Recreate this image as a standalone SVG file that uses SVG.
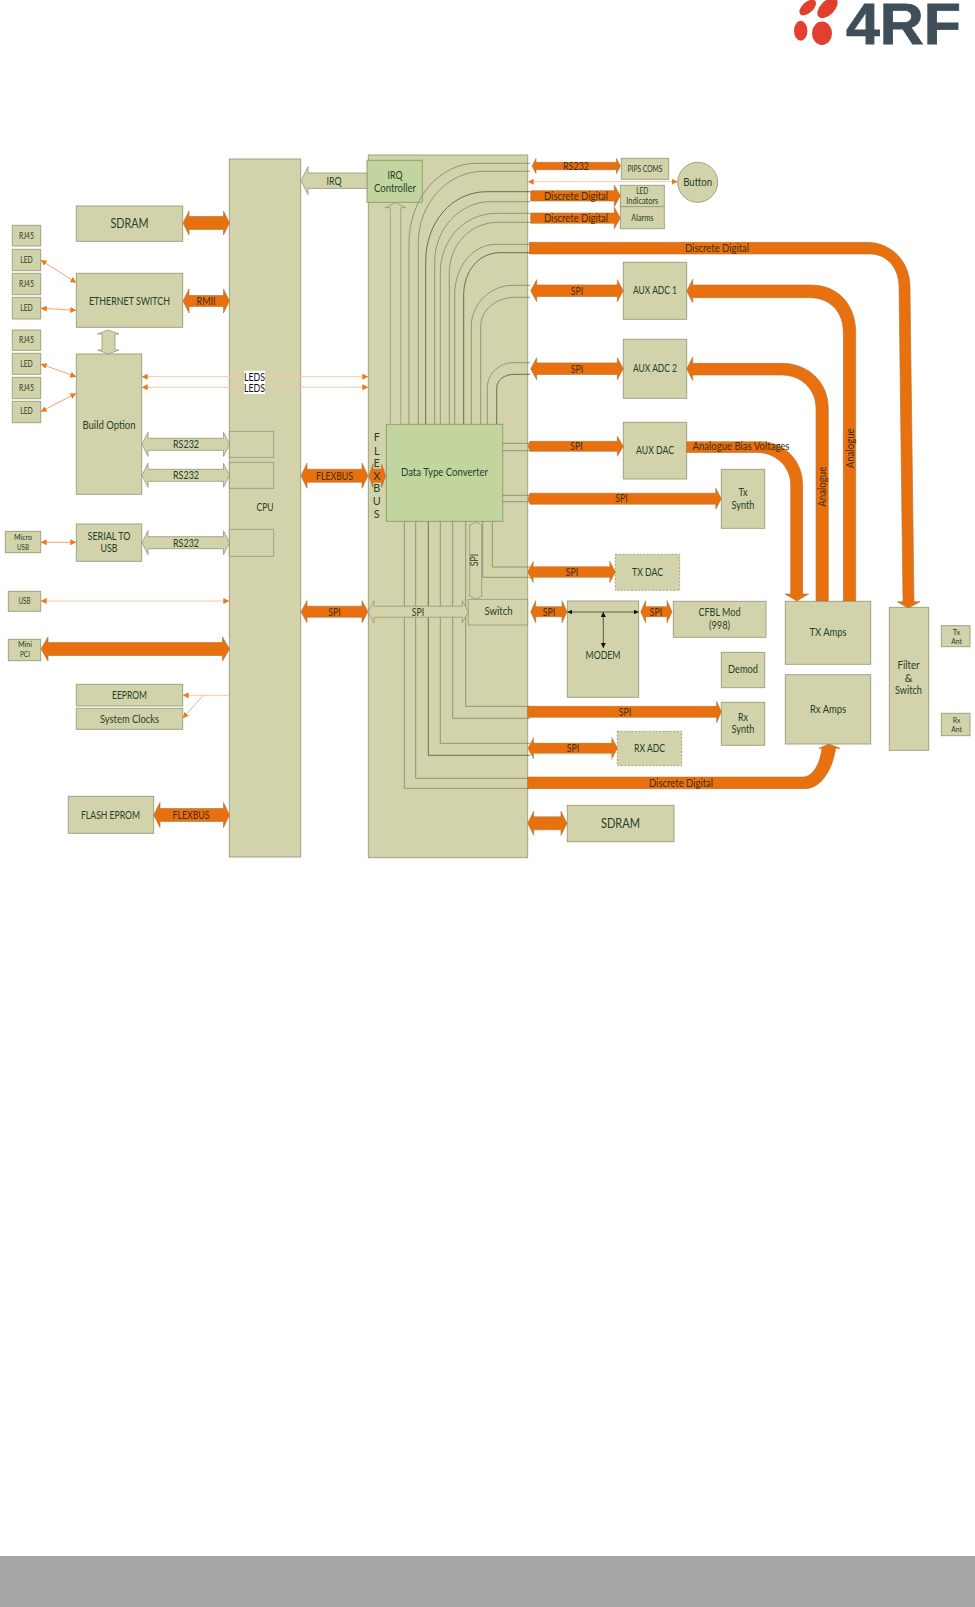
<svg xmlns="http://www.w3.org/2000/svg" width="975" height="1607" viewBox="0 0 975 1607">
<style>
text{font-family:Lato,"Open Sans","Liberation Sans",sans-serif;fill:#24402a;text-anchor:middle;font-size:10.800px}
.n{fill:#d3d3ab;stroke:#9a9b7c;stroke-width:.9}
.g{fill:#c3d59e;stroke:#8b9a6c;stroke-width:.9}
.d{fill:#d3d3ab;stroke:#9a9b7c;stroke-width:.9;stroke-dasharray:2 1.5}
.o{fill:#e9700e;stroke:#a9763a;stroke-width:.6}
.od{fill:#e9700e;stroke:#a9a078;stroke-width:.7;stroke-dasharray:2 1.5}
.t{fill:#d3d3ab;stroke:#95977a;stroke-width:.8}
.l{fill:none;stroke:#8b8c6c;stroke-width:.9}
.l2{fill:none;stroke:#5f604a;stroke-width:.9}
.th{fill:none;stroke:#f3c39c;stroke-width:.9;marker-start:url(#oa);marker-end:url(#oa)}
.th2{fill:none;stroke:#ee9a5c;stroke-width:.9;marker-start:url(#oa);marker-end:url(#oa)}
.b{fill:none;stroke:#3b3b30;stroke-width:.8;marker-start:url(#ba);marker-end:url(#ba)}
.s{font-size:8.500px}
.xs{font-size:7.500px}
.m{font-size:13px}
.c{fill:#3d2f10}
</style>
<defs>
<marker id="oa" markerUnits="userSpaceOnUse" markerWidth="7" markerHeight="6" refX="6" refY="3" orient="auto-start-reverse"><path d="M0 0L6 3L0 6z" fill="#ec7a1c"/></marker>
<marker id="ba" markerUnits="userSpaceOnUse" markerWidth="6" markerHeight="6" refX="5" refY="2.5" orient="auto-start-reverse"><path d="M0 0L5 2.5L0 5z" fill="#111"/></marker>
</defs>

<g id="logo">
<ellipse cx="807.700" cy="7.500" rx="10" ry="5.500" transform="rotate(-42 807.700 7.500)" fill="#e2402e"/>
<ellipse cx="827.500" cy="8" rx="12.500" ry="7" transform="rotate(-45 827.500 8)" fill="#e2402e"/>
<ellipse cx="800.700" cy="30.700" rx="6.700" ry="10" fill="#e2402e"/>
<ellipse cx="822" cy="33.300" rx="10" ry="11.700" fill="#e2402e"/>
<text x="846" y="43.500" textLength="115" lengthAdjust="spacingAndGlyphs" style="font-family:'Liberation Sans',sans-serif;font-weight:700;font-size:58px;fill:#3f4e58;stroke:#3f4e58;stroke-width:.8;text-anchor:start">4RF</text>
</g>
<rect id="footer" x="0" y="1556" width="975" height="51" fill="#a6a6a6"/>

<g id="cpu"><rect class="n" x="229.3" y="159" width="71.4" height="698"/><text x="265" y="511" textLength="17" lengthAdjust="spacingAndGlyphs">CPU</text>
<rect class="n" x="229.3" y="431.3" width="44.4" height="26"/><rect class="n" x="229.3" y="462.3" width="44.4" height="26"/><rect class="n" x="229.3" y="529.3" width="44.4" height="27"/></g>
<g id="bus-block"><rect class="n" x="368.3" y="155" width="159.4" height="702.7"/></g>
<g id="irq-controller"><rect class="g" x="367" y="160.3" width="55.3" height="42"/><text x="395" y="179" textLength="15" lengthAdjust="spacingAndGlyphs">IRQ</text><text x="395" y="191.500" textLength="42" lengthAdjust="spacingAndGlyphs">Controller</text></g>
<g id="data-type-converter"><rect class="g" x="386.3" y="424.3" width="116.4" height="97"/><text x="444.5" y="476" textLength="87" lengthAdjust="spacingAndGlyphs">Data Type Converter</text></g>
<g id="switch"><rect class="n" x="468.3" y="599.3" width="59.4" height="25.7"/><text x="498.5" y="615" textLength="28" lengthAdjust="spacingAndGlyphs">Switch</text></g>

<g id="sdram-left"><rect class="n" x="76.3" y="206" width="106.4" height="35.3"/><text class="m" x="129.5" y="227.500" textLength="38" lengthAdjust="spacingAndGlyphs">SDRAM</text></g>
<g id="rj45-1"><rect class="n" x="12.3" y="225.3" width="28.4" height="20.7"/><text class="s" x="26.5" y="238.500" textLength="15" lengthAdjust="spacingAndGlyphs">RJ45</text></g>
<g id="led-1"><rect class="n" x="12.3" y="249.3" width="28.4" height="21.400"/><text class="s" x="26.500" y="263" textLength="12.500" lengthAdjust="spacingAndGlyphs">LED</text></g>
<g id="rj45-2"><rect class="n" x="12.3" y="273.3" width="28.4" height="21.4"/><text class="s" x="26.500" y="287" textLength="15" lengthAdjust="spacingAndGlyphs">RJ45</text></g>
<g id="led-2"><rect class="n" x="12.3" y="297.3" width="28.4" height="21.7"/><text class="s" x="26.500" y="311" textLength="12.500" lengthAdjust="spacingAndGlyphs">LED</text></g>
<g id="rj45-3"><rect class="n" x="12.3" y="330" width="28.4" height="20.3"/><text class="s" x="26.500" y="342.500" textLength="15" lengthAdjust="spacingAndGlyphs">RJ45</text></g>
<g id="led-3"><rect class="n" x="12.3" y="353.3" width="28.4" height="21"/><text class="s" x="26.500" y="367" textLength="12.500" lengthAdjust="spacingAndGlyphs">LED</text></g>
<g id="rj45-4"><rect class="n" x="12.3" y="377.3" width="28.4" height="21.4"/><text class="s" x="26.500" y="390.500" textLength="15" lengthAdjust="spacingAndGlyphs">RJ45</text></g>
<g id="led-4"><rect class="n" x="12.3" y="401.3" width="28.4" height="21.4"/><text class="s" x="26.500" y="413.500" textLength="12.500" lengthAdjust="spacingAndGlyphs">LED</text></g>
<g id="ethernet-switch"><rect class="n" x="76.3" y="273.3" width="106.4" height="54"/><text x="129.500" y="304.500" textLength="81" lengthAdjust="spacingAndGlyphs">ETHERNET SWITCH</text></g>
<g id="build-option"><rect class="n" x="76.3" y="354" width="65.4" height="140.3"/><text x="109" y="428.500" textLength="53" lengthAdjust="spacingAndGlyphs">Build Option</text></g>
<g id="micro-usb"><rect class="n" x="5.3" y="531.3" width="35.4" height="21.4"/><text class="xs" x="23" y="540" textLength="18" lengthAdjust="spacingAndGlyphs">Micro</text><text class="xs" x="23" y="549.500" textLength="12" lengthAdjust="spacingAndGlyphs">USB</text></g>
<g id="serial-to-usb"><rect class="n" x="76.3" y="524" width="65.4" height="37.3"/><text x="109" y="539.500" textLength="43" lengthAdjust="spacingAndGlyphs">SERIAL TO</text><text x="109" y="551.500" textLength="17" lengthAdjust="spacingAndGlyphs">USB</text></g>
<g id="usb"><rect class="n" x="8.3" y="591.3" width="32.4" height="20"/><text class="s" x="24.500" y="604" textLength="12" lengthAdjust="spacingAndGlyphs">USB</text></g>
<g id="mini-pci"><rect class="n" x="8.3" y="639.3" width="32.4" height="21.4"/><text class="xs" x="25" y="647" textLength="14" lengthAdjust="spacingAndGlyphs">Mini</text><text class="xs" x="25" y="657" textLength="10" lengthAdjust="spacingAndGlyphs">PCI</text></g>
<g id="eeprom"><rect class="n" x="76.3" y="684.3" width="106.4" height="21.700"/><text x="129.500" y="698.500" textLength="35" lengthAdjust="spacingAndGlyphs">EEPROM</text></g>
<g id="system-clocks"><rect class="n" x="76.3" y="708.3" width="106.4" height="21"/><text x="129.500" y="722.500" textLength="59" lengthAdjust="spacingAndGlyphs">System Clocks</text></g>
<g id="flash-eprom"><rect class="n" x="68.3" y="796.3" width="85.4" height="37"/><text x="110.500" y="818.500" textLength="59" lengthAdjust="spacingAndGlyphs">FLASH EPROM</text></g>

<g id="pips-coms"><rect class="n" x="621.3" y="158.3" width="47.4" height="21"/><text class="s" x="645" y="171.500" textLength="35" lengthAdjust="spacingAndGlyphs">PIPS COMS</text></g>
<g id="button"><circle class="n" cx="697.7" cy="182.3" r="20"/><text x="697.7" y="185.500" textLength="29" lengthAdjust="spacingAndGlyphs">Button</text></g>
<g id="led-indicators"><rect class="n" x="620.3" y="185.3" width="44" height="21.400"/><text class="s" x="642.300" y="194" textLength="12" lengthAdjust="spacingAndGlyphs">LED</text><text class="s" x="642.300" y="204" textLength="32" lengthAdjust="spacingAndGlyphs">Indicators</text></g>
<g id="alarms"><rect class="n" x="620.3" y="206.7" width="44" height="22"/><text class="s" x="642.300" y="221" textLength="22" lengthAdjust="spacingAndGlyphs">Alarms</text></g>
<g id="aux-adc-1"><rect class="n" x="623.3" y="262.3" width="63.4" height="57"/><text x="655" y="294" textLength="44" lengthAdjust="spacingAndGlyphs">AUX ADC 1</text></g>
<g id="aux-adc-2"><rect class="n" x="623.3" y="339.3" width="63.4" height="59"/><text x="655" y="372" textLength="44" lengthAdjust="spacingAndGlyphs">AUX ADC 2</text></g>
<g id="aux-dac"><rect class="n" x="623.3" y="422.3" width="63.4" height="56.700"/><text x="655" y="453.500" textLength="38" lengthAdjust="spacingAndGlyphs">AUX DAC</text></g>
<g id="tx-synth"><rect class="n" x="721.3" y="469.3" width="43.4" height="59"/><text x="743" y="496" textLength="9" lengthAdjust="spacingAndGlyphs">Tx</text><text x="743" y="509" textLength="23" lengthAdjust="spacingAndGlyphs">Synth</text></g>
<g id="tx-dac"><rect class="d" x="615.3" y="554.3" width="64.4" height="36"/><text x="647.500" y="575.500" textLength="31" lengthAdjust="spacingAndGlyphs">TX DAC</text></g>
<g id="modem"><rect class="n" x="567.3" y="601" width="71.4" height="96.3"/><text x="603" y="658.500" textLength="35" lengthAdjust="spacingAndGlyphs">MODEM</text></g>
<g id="cfbl-mod"><rect class="n" x="673.3" y="601.3" width="92.7" height="36"/><text x="719.500" y="616" textLength="42" lengthAdjust="spacingAndGlyphs">CFBL Mod</text><text x="719.500" y="629" textLength="21" lengthAdjust="spacingAndGlyphs">(998)</text></g>
<g id="demod"><rect class="n" x="721.3" y="652.3" width="43.4" height="35.400"/><text x="743" y="673" textLength="30" lengthAdjust="spacingAndGlyphs">Demod</text></g>
<g id="rx-synth"><rect class="n" x="721.3" y="702.3" width="43.4" height="43"/><text x="743" y="720.500" textLength="10" lengthAdjust="spacingAndGlyphs">Rx</text><text x="743" y="733" textLength="23" lengthAdjust="spacingAndGlyphs">Synth</text></g>
<g id="tx-amps"><rect class="n" x="785.3" y="601.3" width="85.4" height="63"/><text x="828" y="635.500" textLength="37" lengthAdjust="spacingAndGlyphs">TX Amps</text></g>
<g id="rx-amps"><rect class="n" x="785.3" y="674.7" width="85.4" height="69.300"/><text x="828" y="712.500" textLength="36" lengthAdjust="spacingAndGlyphs">Rx Amps</text></g>
<g id="filter-switch"><rect class="n" x="889.3" y="607.300" width="39.4" height="143"/><text x="908.500" y="669" textLength="22" lengthAdjust="spacingAndGlyphs">Filter</text><text x="908.500" y="681.500">&amp;</text><text x="908.500" y="694" textLength="27" lengthAdjust="spacingAndGlyphs">Switch</text></g>
<g id="tx-ant"><rect class="n" x="941.3" y="625.7" width="28.7" height="21"/><text class="xs" x="956.500" y="634.500" textLength="7.500" lengthAdjust="spacingAndGlyphs">Tx</text><text class="xs" x="956.500" y="643.500" textLength="10.700" lengthAdjust="spacingAndGlyphs">Ant</text></g>
<g id="rx-ant"><rect class="n" x="941.3" y="713.3" width="28.7" height="22.400"/><text class="xs" x="956.500" y="722.500" textLength="7.500" lengthAdjust="spacingAndGlyphs">Rx</text><text class="xs" x="956.500" y="732" textLength="10.700" lengthAdjust="spacingAndGlyphs">Ant</text></g>
<g id="rx-adc"><rect class="d" x="617.3" y="731.3" width="64.4" height="34.400"/><text x="649.500" y="751.500" textLength="31" lengthAdjust="spacingAndGlyphs">RX ADC</text></g>
<g id="sdram-right"><rect class="n" x="567.3" y="805.3" width="106.7" height="36.400"/><text class="m" x="620.500" y="828" textLength="39" lengthAdjust="spacingAndGlyphs">SDRAM</text></g>

<g id="connectors">
<!-- internal bus lines above the converter -->
<path class="l" d="M409 424V243C409 199 439 163.300 476.700 163.300H530"/>
<path class="l" d="M418.300 424V243C418.300 203 448 171.300 483 171.300H530"/>
<path class="l2" d="M425.700 424V261.700C425.700 222 452 191.700 486.700 191.700H530"/>
<path class="l" d="M434.700 424V261.700C434.700 229 460 201.700 490 201.700H530"/>
<path class="l" d="M440.300 424V273C440.300 240 464 213.300 496.700 213.300H530"/>
<path class="l" d="M449.300 424V273C449.300 245 470 222.300 498 222.300H530"/>
<path class="l" d="M454.700 424V295C454.700 267 472 244.300 496.700 244.300H530"/>
<path class="l2" d="M463.700 424V295C463.700 272 478 252.700 500 252.700H530"/>
<path class="l" d="M471.300 424V326.700C471.300 304 490 285.300 513 285.300H530"/>
<path class="l" d="M480.700 424V326.700C480.700 310 496 297.300 515 297.300H530"/>
<path class="l" d="M487.300 424V388.300C487.300 373 500 362.700 513 362.700H530"/>
<path class="l2" d="M496.700 424V388.300C496.700 380 504 374.300 515 374.300H530"/>
<path class="t" d="M390.300 424V207.700H385L395.500 202.700L406 207.700H400.700V424"/>
<!-- internal bus lines below the converter -->
<path class="l" d="M465.700 521.300V706.300H530"/>
<path class="l" d="M452.700 521.300V718.300H530"/>
<path class="l" d="M440.300 521.300V743.300H530"/>
<path class="l2" d="M428.300 521.300V755.300H530"/>
<path class="l" d="M415.700 521.300V778.300H530"/>
<path class="l" d="M404.300 521.300V788.300H530"/>
<path class="l" d="M492.300 521.300V567H530"/>
<path class="l" d="M482.700 521.300V577.300H530"/>
<path class="l" d="M502.700 443.300H530M502.700 450.700H530M502.700 495.300H530M502.700 501.700H530"/>
<!-- wide left side -->
<path class="o" d="M183 223L189 211V216.500H223.500V211L229.500 223L223.500 235V229.500H189V235z"/>
<path class="o" d="M183 301L189 289V295.500H223.500V289L229.500 301L223.500 313V306.500H189V313z"/>
<path class="t" d="M142 444.300L148 432.300V438.300H223.500V432.300L229.500 444.300L223.500 456.300V450.300H148V456.300z"/>
<path class="t" d="M142 475.300L148 463.300V469.300H223.500V463.300L229.500 475.300L223.500 487.300V481.300H148V487.300z"/>
<path class="t" d="M142 542.700L148 530.700V536.700H223.500V530.700L229.500 542.700L223.500 554.700V548.700H148V554.700z"/>
<path class="t" d="M108.300 330L119 334H115V350H119L108.300 354L97.600 350H102V334H97.600z"/>
<path class="o" d="M41 649L48 637V642.500H222.500V637L229.500 649L222.500 661V655.500H48V661z"/>
<path class="o" d="M153.700 815L160 802.500V808.500H223.500V802.500L229.500 815L223.500 827.500V821.500H160V827.500z"/>
<path class="t" d="M301 180.700L308 166.700V173H367V188.400H308V194.700z"/>
<path class="o" d="M301 475.700L307 463.200V469.200H362V463.200L368 475.700L362 488.200V482.200H307V488.200z"/>
<path class="o" d="M369 475.700L373 464V469.200H381.500V464L385.700 475.700L381.500 487.500V482.200H373V487.500z"/>
<path class="o" d="M301 611.700L307 600.700V606.200H362V600.700L368 611.700L362 622.700V617.200H307V622.700z"/>
<path class="t" d="M368 611.700L374 600.700V606.200H462.300V600.700L468.300 611.700L462.300 622.700V617.200H374V622.700z"/>
<path class="t" d="M475.700 522L482.700 525.500H481.700V595.500H482.700L475.700 599L468.700 595.500H469.700V525.500H468.700z"/>
<!-- thin connectors -->
<path class="th2" d="M40.700 260L76.300 282.700"/>
<path class="th2" d="M40.700 308.300L76.300 310.300"/>
<path class="th2" d="M40.700 364L76.300 376.700"/>
<path class="th2" d="M40.700 411.700L76.300 393.300"/>
<path class="th" d="M141.700 376.700H368.300"/>
<path class="th" d="M141.700 387.300H368.300"/>
<path class="th2" d="M40.700 542.300H76.300"/>
<path class="th" d="M40.700 601H229.300"/>
<path fill="none" stroke="#f3c39c" stroke-width=".9" marker-end="url(#oa)" d="M229.300 695.300H182.700"/>
<path fill="none" stroke="#f0a66e" stroke-width=".9" marker-end="url(#oa)" d="M203.300 695.300L182.700 718.300"/>
<path class="th" d="M527.700 181.700H677.700"/>
<!-- right side wide -->
<path class="o" d="M532 166L536 158.500V162.300H616.500V158.500L620.500 166L616.500 173.500V169.700H536V173.500z"/>
<path class="o" d="M530.700 190.700H614.300V185L620.300 195.800L614.300 206.700V201H530.700z"/>
<path class="o" d="M530.700 213H614.300V207.300L620.300 218L614.300 228.700V223.300H530.700z"/>
<path class="o" d="M529.300 242.300H866.700C892 242.300 910 262 910 286.700L914 601.700H920L908.300 608L897.300 601.700H903L899 286.700C899 268 887 254 870 254H529.300z"/>
<path class="o" d="M530.700 290.700L536.700 279.700V284.900H617.300V279.700L623.300 290.700L617.300 301.700V296.500H536.700V301.700z"/>
<path class="o" d="M530.700 368.700L536.700 357.700V362.900H617.300V357.700L623.300 368.700L617.300 379.700V374.500H536.700V379.700z"/>
<path class="o" d="M686.700 291L692.700 279.300V285H811.700C838 285 855.700 305 855.700 331.700V601H843.300V331.700C843.300 312 830 297.700 810 297.700H692.700V302.700z"/>
<path class="o" d="M686.700 368.700L692.700 357V363.300H781.700C808 363.300 828.300 382 828.300 408.300V601H816V408.300C816 390 802 375 781.700 375H692.700V380.400z"/>
<path class="o" d="M686.700 441.700H760C784 441.700 802.700 460 802.700 485V594H808.700L796.800 601L785 594H790.700V485C790.700 467 776 452.500 756.700 452.500H686.700z"/>
<path class="o" d="M530 441.300H617.300V436.300L623.300 446.300L617.300 456.300V451.300H530L528 446.300z"/>
<path class="o" d="M530 493.200H715.800V488.200L721.300 498.700L715.800 509.200V504.200H530L528 498.700z"/>
<path class="od" d="M527.300 572L533.300 561V566.500H609.700V561L615.700 572L609.700 583V577.500H533.300V583z"/>
<path class="o" d="M530.700 611.700L535.700 600.700V606.700H562V600.700L567 611.700L562 622.700V616.700H535.700V622.700z"/>
<path class="o" d="M640.700 611.700L645.700 600.700V606.700H667V600.700L672 611.700L667 622.700V616.700H645.700V622.700z"/>
<path class="o" d="M527.700 706.300H716.700V701.500L721.300 711.800L716.700 722.500V717.300H527.700z"/>
<path class="od" d="M527.700 748.300L533.700 737.300V743H611.700V737.300L617.700 748.300L611.700 759.300V753.600H533.700V759.300z"/>
<path class="o" d="M527.700 823.300L533.700 811.300V816.800H561V811.300L567 823.300L561 835.300V829.800H533.700V835.300z"/>
<path class="o" d="M527.700 777H803C812 777 820 765 822 748.300H819L829 744L840 748.300H835.700C832 772 820 788.700 805 788.700H527.700z"/>
<path class="b" d="M567.300 612H638.700"/>
<path class="b" d="M603.300 612V648"/>
<g id="connector-labels">
<text x="206" y="304.500" class="c" textLength="19" lengthAdjust="spacingAndGlyphs">RMII</text>
<rect x="244" y="370.700" width="21" height="23.300" fill="#fff"/>
<text x="254.500" y="380.500" style="fill:#111" textLength="21" lengthAdjust="spacingAndGlyphs">LEDS</text>
<text x="254.500" y="391.500" style="fill:#111" textLength="21" lengthAdjust="spacingAndGlyphs">LEDS</text>
<text x="186" y="448" textLength="26" lengthAdjust="spacingAndGlyphs">RS232</text>
<text x="186" y="479" textLength="26" lengthAdjust="spacingAndGlyphs">RS232</text>
<text x="186" y="546.500" textLength="26" lengthAdjust="spacingAndGlyphs">RS232</text>
<text x="334.500" y="479.500" class="c" textLength="37" lengthAdjust="spacingAndGlyphs">FLEXBUS</text>
<text x="191" y="819" class="c" textLength="37" lengthAdjust="spacingAndGlyphs">FLEXBUS</text>
<text x="334.500" y="615.500" class="c" textLength="12.300" lengthAdjust="spacingAndGlyphs">SPI</text>
<text x="418" y="615.500" textLength="12.300" lengthAdjust="spacingAndGlyphs">SPI</text>
<text x="334" y="184.500" textLength="15" lengthAdjust="spacingAndGlyphs">IRQ</text>
<text x="576" y="170" class="c" textLength="26" lengthAdjust="spacingAndGlyphs">RS232</text>
<text x="576" y="199.500" class="c" textLength="64" lengthAdjust="spacingAndGlyphs">Discrete Digital</text>
<text x="576" y="221.500" class="c" textLength="64" lengthAdjust="spacingAndGlyphs">Discrete Digital</text>
<text x="717" y="251.500" class="c" textLength="64" lengthAdjust="spacingAndGlyphs">Discrete Digital</text>
<text x="577" y="294.500" class="c" textLength="12.300" lengthAdjust="spacingAndGlyphs">SPI</text>
<text x="577" y="372.500" class="c" textLength="12.300" lengthAdjust="spacingAndGlyphs">SPI</text>
<text x="576.500" y="449.500" class="c" textLength="12.300" lengthAdjust="spacingAndGlyphs">SPI</text>
<text x="621.500" y="502" class="c" textLength="12.300" lengthAdjust="spacingAndGlyphs">SPI</text>
<text x="572" y="575.500" class="c" textLength="12.300" lengthAdjust="spacingAndGlyphs">SPI</text>
<text x="549" y="615.500" class="c" textLength="12.300" lengthAdjust="spacingAndGlyphs">SPI</text>
<text x="656" y="615.500" class="c" textLength="12.300" lengthAdjust="spacingAndGlyphs">SPI</text>
<text x="625" y="715.500" class="c" textLength="12.300" lengthAdjust="spacingAndGlyphs">SPI</text>
<text x="573" y="752" class="c" textLength="12.300" lengthAdjust="spacingAndGlyphs">SPI</text>
<text x="681" y="787" class="c" textLength="64" lengthAdjust="spacingAndGlyphs">Discrete Digital</text>
<text x="741" y="450" class="c" textLength="97" lengthAdjust="spacingAndGlyphs">Analogue Bias Voltages</text>
<text transform="translate(826 486.700) rotate(-90)" class="c" textLength="40" lengthAdjust="spacingAndGlyphs">Analogue</text>
<text transform="translate(853.500 448.300) rotate(-90)" class="c" textLength="40" lengthAdjust="spacingAndGlyphs">Analogue</text>
<text transform="translate(478 560) rotate(-90)" textLength="12.300" lengthAdjust="spacingAndGlyphs">SPI</text>
</g>
</g>
<g id="flexbus-label"><text x="376.700" y="441">F</text><text x="376.700" y="454.500">L</text><text x="376.700" y="467">E</text><text x="376.700" y="480">X</text><text x="376.700" y="492">B</text><text x="376.700" y="505">U</text><text x="376.700" y="517.500">S</text></g>
</svg>
